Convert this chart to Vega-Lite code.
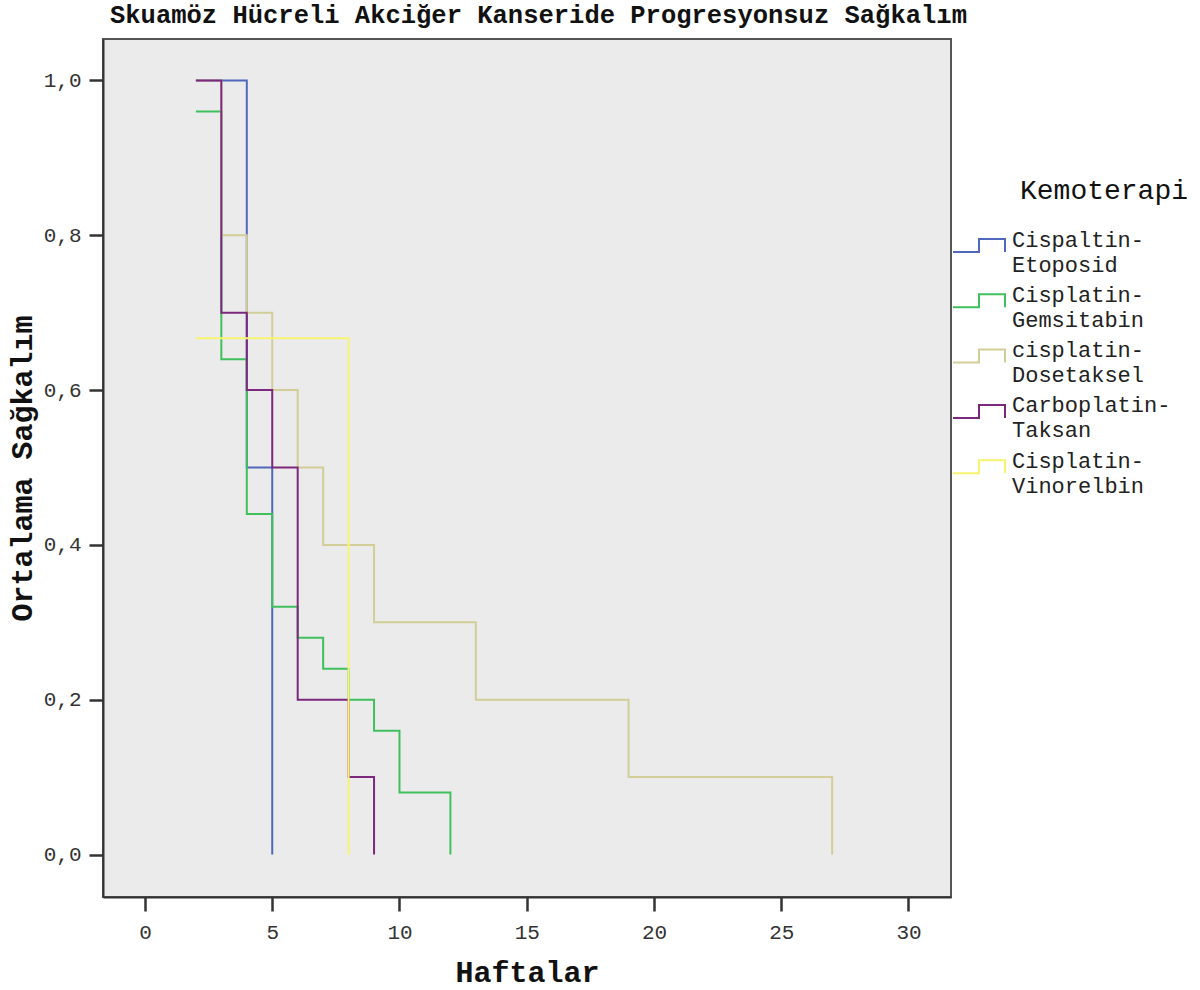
{
  "$schema": "https://vega.github.io/schema/vega-lite/v6.json",
  "width": 848,
  "height": 858,
  "autosize": {"type": "none"},
  "padding": {"left": 103, "top": 39, "right": 249, "bottom": 93},
  "background": "white",
  "config": {
    "view": {"fill": "#ebebeb", "stroke": "#555555", "strokeWidth": 2},
    "font": "Liberation Mono"
  },
  "title": {
    "text": "Skuamöz Hücreli Akciğer Kanseride Progresyonsuz Sağkalım",
    "anchor": "start",
    "frame": "group",
    "font": "Liberation Mono",
    "fontSize": 25.5,
    "fontWeight": "bold",
    "color": "#111111",
    "baseline": "alphabetic",
    "offset": 15,
    "dx": 7,
    "dy": 24
  },
  "data": {
    "values": [
      {"kemoterapi": "Cispaltin-Etoposid", "hafta": 2, "sagkalim": 1.0},
      {"kemoterapi": "Cispaltin-Etoposid", "hafta": 4, "sagkalim": 0.5},
      {"kemoterapi": "Cispaltin-Etoposid", "hafta": 5, "sagkalim": 0.0},
      {"kemoterapi": "Cisplatin-Gemsitabin", "hafta": 2, "sagkalim": 0.96},
      {"kemoterapi": "Cisplatin-Gemsitabin", "hafta": 3, "sagkalim": 0.64},
      {"kemoterapi": "Cisplatin-Gemsitabin", "hafta": 4, "sagkalim": 0.44},
      {"kemoterapi": "Cisplatin-Gemsitabin", "hafta": 5, "sagkalim": 0.32},
      {"kemoterapi": "Cisplatin-Gemsitabin", "hafta": 6, "sagkalim": 0.28},
      {"kemoterapi": "Cisplatin-Gemsitabin", "hafta": 7, "sagkalim": 0.24},
      {"kemoterapi": "Cisplatin-Gemsitabin", "hafta": 8, "sagkalim": 0.2},
      {"kemoterapi": "Cisplatin-Gemsitabin", "hafta": 9, "sagkalim": 0.16},
      {"kemoterapi": "Cisplatin-Gemsitabin", "hafta": 10, "sagkalim": 0.08},
      {"kemoterapi": "Cisplatin-Gemsitabin", "hafta": 12, "sagkalim": 0.0},
      {"kemoterapi": "cisplatin-Dosetaksel", "hafta": 2, "sagkalim": 1.0},
      {"kemoterapi": "cisplatin-Dosetaksel", "hafta": 3, "sagkalim": 0.8},
      {"kemoterapi": "cisplatin-Dosetaksel", "hafta": 4, "sagkalim": 0.7},
      {"kemoterapi": "cisplatin-Dosetaksel", "hafta": 5, "sagkalim": 0.6},
      {"kemoterapi": "cisplatin-Dosetaksel", "hafta": 6, "sagkalim": 0.5},
      {"kemoterapi": "cisplatin-Dosetaksel", "hafta": 7, "sagkalim": 0.4},
      {"kemoterapi": "cisplatin-Dosetaksel", "hafta": 9, "sagkalim": 0.3},
      {"kemoterapi": "cisplatin-Dosetaksel", "hafta": 13, "sagkalim": 0.2},
      {"kemoterapi": "cisplatin-Dosetaksel", "hafta": 19, "sagkalim": 0.1},
      {"kemoterapi": "cisplatin-Dosetaksel", "hafta": 27, "sagkalim": 0.0},
      {"kemoterapi": "Carboplatin-Taksan", "hafta": 2, "sagkalim": 1.0},
      {"kemoterapi": "Carboplatin-Taksan", "hafta": 3, "sagkalim": 0.7},
      {"kemoterapi": "Carboplatin-Taksan", "hafta": 4, "sagkalim": 0.6},
      {"kemoterapi": "Carboplatin-Taksan", "hafta": 5, "sagkalim": 0.5},
      {"kemoterapi": "Carboplatin-Taksan", "hafta": 6, "sagkalim": 0.2},
      {"kemoterapi": "Carboplatin-Taksan", "hafta": 8, "sagkalim": 0.1},
      {"kemoterapi": "Carboplatin-Taksan", "hafta": 9, "sagkalim": 0.0},
      {"kemoterapi": "Cisplatin-Vinorelbin", "hafta": 2, "sagkalim": 0.667},
      {"kemoterapi": "Cisplatin-Vinorelbin", "hafta": 8, "sagkalim": 0.0}
    ]
  },
  "mark": {"type": "line", "interpolate": "step-after", "strokeWidth": 2, "clip": true},
  "encoding": {
    "x": {
      "field": "hafta",
      "type": "quantitative",
      "scale": {"domain": [-1.65, 31.67], "nice": false, "zero": false},
      "axis": {
        "title": "Haftalar",
        "values": [0, 5, 10, 15, 20, 25, 30],
        "grid": false,
        "domain": true,
        "domainColor": "#333333",
        "domainWidth": 2,
        "tickSize": 14,
        "tickWidth": 2.5,
        "tickColor": "#333333",
        "labelFont": "Liberation Mono",
        "labelFontSize": 21,
        "labelColor": "#333333",
        "labelPadding": 10,
        "labelFlush": false,
        "titleFont": "Liberation Mono",
        "titleFontSize": 30,
        "titleFontWeight": "bold",
        "titleColor": "#111111",
        "titlePadding": 15
      }
    },
    "y": {
      "field": "sagkalim",
      "type": "quantitative",
      "scale": {"domain": [-0.0549, 1.0536], "nice": false, "zero": false},
      "axis": {
        "title": "Ortalama Sağkalım",
        "values": [0, 0.2, 0.4, 0.6, 0.8, 1.0],
        "labelExpr": "replace(format(datum.value, '.1f'), '.', ',')",
        "grid": false,
        "domain": true,
        "domainColor": "#333333",
        "domainWidth": 2,
        "tickSize": 14,
        "tickWidth": 2.5,
        "tickColor": "#333333",
        "labelFont": "Liberation Mono",
        "labelFontSize": 21,
        "labelColor": "#333333",
        "labelPadding": 8,
        "labelFlush": false,
        "titleFont": "Liberation Mono",
        "titleFontSize": 30,
        "titleFontWeight": "bold",
        "titleColor": "#111111",
        "titlePadding": 6
      }
    },
    "color": {
      "field": "kemoterapi",
      "type": "nominal",
      "sort": ["Cispaltin-Etoposid", "Cisplatin-Gemsitabin", "cisplatin-Dosetaksel", "Carboplatin-Taksan", "Cisplatin-Vinorelbin"],
      "scale": {
        "domain": ["Cispaltin-Etoposid", "Cisplatin-Gemsitabin", "cisplatin-Dosetaksel", "Carboplatin-Taksan", "Cisplatin-Vinorelbin"],
        "range": ["#5068bc", "#40c05c", "#d3ce97", "#7c287d", "#f8f472"]
      },
      "legend": {
        "title": "Kemoterapi",
        "orient": "none",
        "legendX": 849,
        "legendY": 138,
        "direction": "vertical",
        "padding": 0,
        "titleFont": "Liberation Mono",
        "titleFontSize": 28,
        "titleFontWeight": "normal",
        "titleColor": "#111111",
        "titleLimit": 400,
        "titlePadding": 20,
        "labelFont": "Liberation Mono",
        "labelFontSize": 22,
        "labelColor": "#222222",
        "labelLimit": 400,
        "labelOffset": 6,
        "labelExpr": "[split(datum.label, '-')[0] + '-', split(datum.label, '-')[1]]",
        "symbolType": "M-1,0H0V-0.5H1V0",
        "symbolSize": 2704,
        "symbolStrokeWidth": 2,
        "rowPadding": 4.3,
        "encode": {
          "title": {"update": {"dx": {"value": 68}}},
          "symbols": {"update": {"fill": {"value": "transparent"}, "strokeWidth": {"value": 2}}},
          "labels": {"update": {"lineHeight": {"value": 25}, "dy": {"value": -12.5}}}
        }
      }
    }
  }
}
